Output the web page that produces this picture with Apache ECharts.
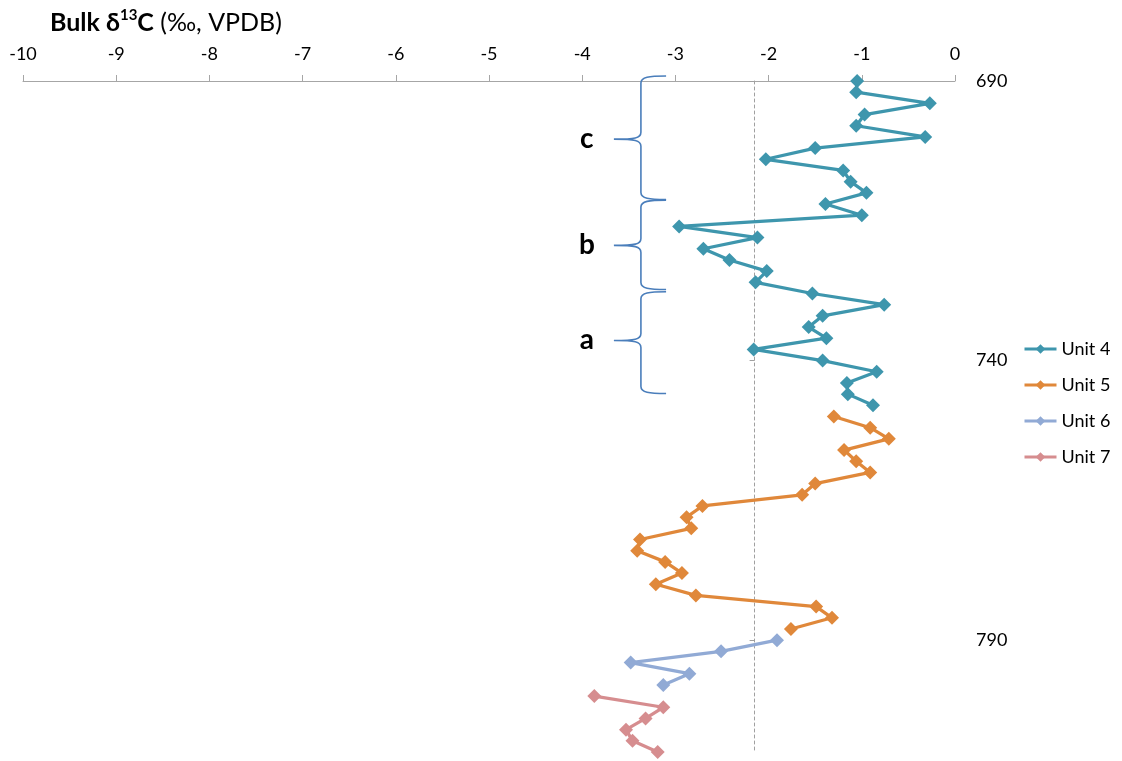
<!DOCTYPE html>
<html><head><meta charset="utf-8">
<script src="https://cdn.jsdelivr.net/npm/echarts@6/dist/echarts.min.js"></script>
<style>html,body{margin:0;padding:0;background:#fff}#c{width:1122px;height:761px}</style>
</head><body><div id="c"></div>
<script>
// ---- data ----
const unit4Depth = [690,692,694,696,698,700,702,704,706,708,710,712,714,716,718,720,722,724,726,728,730,732,734,736,738,740,742,744,746,748];
const unit4D13C  = [-1.05,-1.06,-0.27,-0.97,-1.06,-0.32,-1.50,-2.03,-1.20,-1.12,-0.95,-1.39,-1.00,-2.96,-2.12,-2.70,-2.42,-2.02,-2.14,-1.53,-0.76,-1.42,-1.57,-1.38,-2.16,-1.42,-0.84,-1.16,-1.15,-0.88];
const unit5Depth = [750,752,754,756,758,760,762,764,766,768,770,772,774,776,778,780,782,784,786,788];
const unit5D13C  = [-1.30,-0.91,-0.71,-1.19,-1.06,-0.91,-1.50,-1.64,-2.71,-2.88,-2.83,-3.38,-3.41,-3.11,-2.93,-3.21,-2.78,-1.49,-1.32,-1.76];
const unit6Depth = [790,792,794,796,798];
const unit6D13C  = [-1.91,-2.51,-3.48,-2.85,-3.13];
const unit7Depth = [800,802,804,806,808,810];
const unit7D13C  = [-3.87,-3.13,-3.32,-3.53,-3.46,-3.19];
const seriesNames = ['Unit 4','Unit 5','Unit 6','Unit 7'];
const depthTickLabels = [690,740,790];
const braceLabels = ['c','b','a'];
const braceTop    = [689.1,711.3,727.7];
const braceTip    = [700.4,719.4,736.4];
const braceBottom = [711.2,727.3,745.9];
const dashedCrossValue = -2.15;

// ---- styling ----
const FONT = 'Lato';
const colors = ['#3E96AD','#E0883A','#91AAD5','#D68D8F'];
const BRACE_X = {end:-3.10, spine:-3.37, tip:-3.66, label:-3.95};
const X_MIN = -10, X_MAX = 0, Y_MIN = 690, Y_MAX = 810;

function zip(xs, ys){ return xs.map((x,i)=>[x, ys[i]]); }
const seriesData = [zip(unit4D13C,unit4Depth), zip(unit5D13C,unit5Depth), zip(unit6D13C,unit6Depth), zip(unit7D13C,unit7Depth)];

const lineSeries = seriesNames.map((n,i)=>({
  name:n, type:'line', data:seriesData[i], symbol:'diamond', symbolSize:14,
  lineStyle:{width:3.25, color:colors[i]}, itemStyle:{color:colors[i]},
  clip:false, z:3
}));

const braceSeries = {
  type:'custom', name:'braces', coordinateSystem:'cartesian2d', silent:true, z:2,
  data: braceTop.map((t,i)=>[BRACE_X.end, t, braceTip[i], braceBottom[i]]),
  encode:{x:0, y:[1,3]},
  renderItem: function(params, api){
    const top = api.value(1), tip = api.value(2), bot = api.value(3);
    const pT = api.coord([BRACE_X.end, top]);
    const xe = pT[0], yT = pT[1];
    const xv = api.coord([BRACE_X.spine, top])[0];
    const xt = api.coord([BRACE_X.tip, top])[0];
    const yM = api.coord([BRACE_X.end, tip])[1];
    const yB = api.coord([BRACE_X.end, bot])[1];
    const r = 7;
    const d = 'M'+xe+','+yT+' C'+(xv+8)+','+yT+' '+xv+','+(yT+1)+' '+xv+','+(yT+r)+
      ' L'+xv+','+(yM-r)+' C'+xv+','+(yM-1)+' '+(xv-6)+','+yM+' '+xt+','+yM+
      ' C'+(xv-6)+','+yM+' '+xv+','+(yM+1)+' '+xv+','+(yM+r)+
      ' L'+xv+','+(yB-r)+' C'+xv+','+(yB-1)+' '+(xv+8)+','+yB+' '+xe+','+yB;
    const lx = api.coord([BRACE_X.label, tip])[0];
    return {type:'group', children:[
      {type:'path', shape:{pathData:d}, style:{fill:'none', stroke:'#4A7EBB', lineWidth:1.6}},
      {type:'text', x:lx, y:yM, style:{text:braceLabels[params.dataIndex], font:'bold 28px '+FONT, fill:'#000', align:'center', verticalAlign:'middle'}}
    ]};
  }
};

const option = {
  animation:false,
  backgroundColor:'#fff',
  textStyle:{fontFamily:FONT},
  title:{
    text:'{b|Bulk δ}{sup|13}{b|C}{r| (‰, VPDB)}',
    left:45, top:3,
    textStyle:{fontWeight:'normal', rich:{
      b:{fontFamily:FONT, fontSize:25, fontWeight:'bold', color:'#000', lineHeight:30},
      sup:{fontFamily:FONT, fontSize:15, fontWeight:'bold', color:'#000', lineHeight:20, verticalAlign:'top'},
      r:{fontFamily:FONT, fontSize:25, fontWeight:'normal', color:'#000', lineHeight:30}
    }}
  },
  legend:{
    data:seriesNames, orient:'vertical', left:1023, top:339, itemWidth:32, itemHeight:12, itemGap:16,
    lineStyle:{width:3},
    textStyle:{fontFamily:FONT, fontSize:18, color:'#000', lineHeight:20}, padding:0
  },
  grid:{left:23, right:167, top:81, bottom:9, containLabel:false},
  xAxis:{
    type:'value', position:'top', min:X_MIN, max:X_MAX, interval:1,
    axisLine:{onZero:false, lineStyle:{color:'#A6A6A6', width:1}},
    axisTick:{show:true, length:6, lineStyle:{color:'#A6A6A6'}},
    axisLabel:{fontFamily:FONT, fontSize:18, color:'#000', margin:18},
    splitLine:{show:false}
  },
  yAxis:[
    {type:'value', inverse:true, min:Y_MIN, max:Y_MAX, position:'right',
     axisLine:{show:false, onZero:false}, axisTick:{show:false},
     axisLabel:{fontFamily:FONT, fontSize:18, color:'#000', margin:21, customValues:depthTickLabels},
     splitLine:{show:false}},
    {type:'value', inverse:true, min:Y_MIN, max:Y_MAX, position:'left', offset:0,
     axisLine:{show:true, onZero:false, lineStyle:{color:'#A0A0A0', type:[3,3], width:1}},
     axisTick:{show:true, length:5, customValues:depthTickLabels, lineStyle:{color:'#A0A0A0'}},
     axisLabel:{show:false}, splitLine:{show:false}}
  ],
  series: lineSeries.concat([braceSeries])
};

const chart = echarts.init(document.getElementById('c'), null, {renderer:'canvas'});
chart.setOption(option);
const crossPx = chart.convertToPixel({xAxisIndex:0}, dashedCrossValue);
const leftPx = chart.convertToPixel({xAxisIndex:0}, X_MIN);
chart.setOption({yAxis:[{}, {offset: leftPx - crossPx}]});
</script></body></html>
